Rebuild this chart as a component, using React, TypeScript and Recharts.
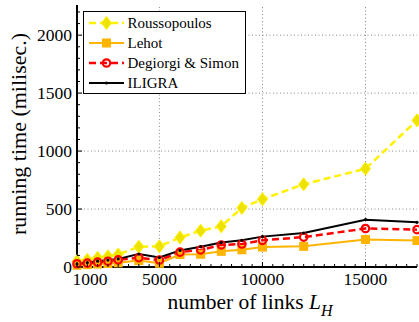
import { Legend, Line, LineChart, ReferenceLine, XAxis, YAxis } from 'recharts';

// number of links
const links = [1000, 1500, 2000, 2500, 3000, 4000, 5000, 6000, 7000, 8000, 9000, 10000, 12000, 15000, 17500];
// running times in milisec.
const roussopoulos = [50, 62, 80, 92, 108, 175, 178, 255, 313, 351, 510, 585, 713, 848, 1265];
const lehot = [15, 20, 25, 30, 36, 55, 32, 108, 110, 135, 149, 172, 178, 237, 228];
const degiorgi = [28, 33, 42, 50, 62, 80, 60, 128, 147, 190, 198, 230, 258, 332, 322];
const iligra = [25, 38, 50, 60, 70, 112, 82, 143, 175, 212, 230, 262, 293, 408, 385];

const xMajor = [1000, 5000, 10000, 15000];
const yMajor = [0, 500, 1000, 1500, 2000];
const xTicks = Array.from({ length: 34 }, (_, i) => 1000 + i * 500);
const yTicks = Array.from({ length: 23 }, (_, i) => i * 100);

const data = links.map((x, i) => ({
  x,
  rouss: roussopoulos[i],
  lehot: lehot[i],
  degiorgi: degiorgi[i],
  iligra: iligra[i],
}));

const FONT = "'Liberation Serif', 'Times New Roman', serif";
const YELLOW = '#FFF200';
const ORANGE = '#FFB400';
const RED = '#FF0000';

const marker = (kind: string, cx: number, cy: number, key?: any) => {
  if (kind === 'diamond')
    return (
      <polygon key={key} points={`${cx},${cy - 6.5} ${cx + 5},${cy} ${cx},${cy + 6.5} ${cx - 5},${cy}`}
        fill="#EDE200" stroke={YELLOW} strokeWidth={1} />
    );
  if (kind === 'square')
    return <rect key={key} x={cx - 4.5} y={cy - 4.5} width={9} height={9} fill={ORANGE} />;
  if (kind === 'circle')
    return <circle key={key} cx={cx} cy={cy} r={3.7} fill="none" stroke={RED} strokeWidth={2.2} />;
  return <circle key={key} cx={cx} cy={cy} r={1.6} fill="#000" />;
};

const series = [
  { key: 'rouss', name: 'Roussopoulos', color: YELLOW, dash: '7 4', width: 2.5, mark: 'diamond' },
  { key: 'lehot', name: 'Lehot', color: ORANGE, dash: undefined, width: 2, mark: 'square' },
  { key: 'degiorgi', name: 'Degiorgi & Simon', color: RED, dash: '7 4', width: 2.5, mark: 'circle' },
  { key: 'iligra', name: 'ILIGRA', color: '#000', dash: undefined, width: 2, mark: 'dot' },
];

const XTick = (p: any, side: string) => {
  const v = p.payload.value;
  const major = xMajor.includes(v);
  const len = major ? 5 : 3;
  const dir = side === 'bottom' ? -1 : 1;
  return (
    <g>
      <line x1={p.x} x2={p.x} y1={p.y} y2={p.y + dir * len} stroke="#000" strokeWidth={1} />
      {side === 'bottom' && major && (
        <text x={p.x + (v === 1000 ? 13 : 0)} y={p.y + 18} textAnchor="middle" fontSize={17.5} fontFamily={FONT} fill="#000">
          {v}
        </text>
      )}
    </g>
  );
};

const YTick = (p: any, side: string) => {
  const v = p.payload.value;
  const major = yMajor.includes(v);
  const len = major ? 5 : 3;
  const dir = side === 'left' ? 1 : -1;
  return (
    <g>
      <line x1={p.x} x2={p.x + dir * len} y1={p.y} y2={p.y} stroke="#000" strokeWidth={1} />
      {side === 'left' && major && (
        <text x={p.x - 5} y={p.y} dy="0.35em" textAnchor="end" fontSize={17.5} fontFamily={FONT} fill="#000">
          {v}
        </text>
      )}
    </g>
  );
};

const LegendBox = () => (
  <div
    style={{
      width: 163,
      height: 83,
      boxSizing: 'border-box',
      border: '1.5px solid #000',
      background: '#fff',
      paddingTop: 1,
    }}
  >
    {series.map((s) => (
      <div key={s.key} style={{ height: 20, display: 'flex', alignItems: 'center' }}>
        <svg width={35} height={20} style={{ marginLeft: 4.5, marginRight: 4 }}>
          <line x1={0} x2={35} y1={10} y2={10} stroke={s.color} strokeWidth={s.width} strokeDasharray={s.dash} />
          {marker(s.mark, 17.5, 10)}
        </svg>
        <span style={{ fontFamily: FONT, fontSize: 15, color: '#000', lineHeight: '20px' }}>{s.name}</span>
      </div>
    ))}
  </div>
);

export default function App() {
  return (
    <div style={{ position: 'absolute', left: 0, top: 0 }}>
      <LineChart width={419} height={322} data={data} margin={{ top: 5, right: 2, left: 0, bottom: 0 }}>
        <XAxis
          dataKey="x"
          type="number"
          domain={[1000, 17500]}
          ticks={xTicks}
          interval={0}
          tickLine={false}
          tickSize={0}
          tickMargin={0}
          tick={(p: any) => XTick(p, 'bottom')}
          height={55}
          axisLine={{ stroke: '#000', strokeWidth: 2 }}
          label={{
            content: (props: any) => {
              const vb = props.viewBox;
              return (
                <text x={vb.x + vb.width / 2 + 3} y={vb.y + 41.5} textAnchor="middle" fontSize={21.5} fontFamily={FONT} fill="#000">
                  number of links <tspan fontStyle="italic">L</tspan>
                  <tspan fontStyle="italic" fontSize={16} dy={7}>H</tspan>
                </text>
              );
            },
          }}
        />
        <XAxis
          xAxisId="top"
          orientation="top"
          dataKey="x"
          type="number"
          domain={[1000, 17500]}
          ticks={xTicks}
          interval={0}
          tickLine={false}
          tickSize={0}
          tickMargin={0}
          tick={(p: any) => XTick(p, 'top')}
          height={0}
          axisLine={{ stroke: '#000', strokeWidth: 1.2 }}
        />
        <YAxis
          type="number"
          domain={[0, 2260]}
          ticks={yTicks}
          interval={0}
          tickLine={false}
          tickSize={0}
          tickMargin={0}
          tick={(p: any) => YTick(p, 'left')}
          width={77}
          axisLine={{ stroke: '#000', strokeWidth: 2 }}
          label={{
            content: () => (
              <text x={26} y={134} transform="rotate(-90, 26, 134)" textAnchor="middle" fontSize={22} fontFamily={FONT} fill="#000">
                running time (milisec.)
              </text>
            ),
          }}
        />
        <YAxis
          yAxisId="right"
          orientation="right"
          type="number"
          domain={[0, 2260]}
          ticks={yTicks}
          interval={0}
          tickLine={false}
          tickSize={0}
          tickMargin={0}
          tick={(p: any) => YTick(p, 'right')}
          width={0}
          axisLine={{ stroke: '#000', strokeWidth: 1.2 }}
        />
        {xMajor.slice(1).map((v) => (
          <ReferenceLine key={'gx' + v} x={v} stroke="#8a8a8a" strokeDasharray="1 2.5" />
        ))}
        {yMajor.slice(1).map((v) => (
          <ReferenceLine key={'gy' + v} y={v} stroke="#8a8a8a" strokeDasharray="1 2.5" />
        ))}
        {series.map((s) => (
          <Line
            key={s.key}
            type="linear"
            dataKey={s.key}
            name={s.name}
            stroke={s.color}
            strokeWidth={s.width}
            strokeDasharray={s.dash}
            dot={(p: any) => marker(s.mark, p.cx, p.cy, p.index)}
            activeDot={false}
            isAnimationActive={false}
          />
        ))}
        <Legend
          layout="vertical"
          align="center"
          verticalAlign="middle"
          wrapperStyle={{ left: 83, top: 11, width: 163, height: 83 }}
          content={() => <LegendBox />}
        />
      </LineChart>
    </div>
  );
}
